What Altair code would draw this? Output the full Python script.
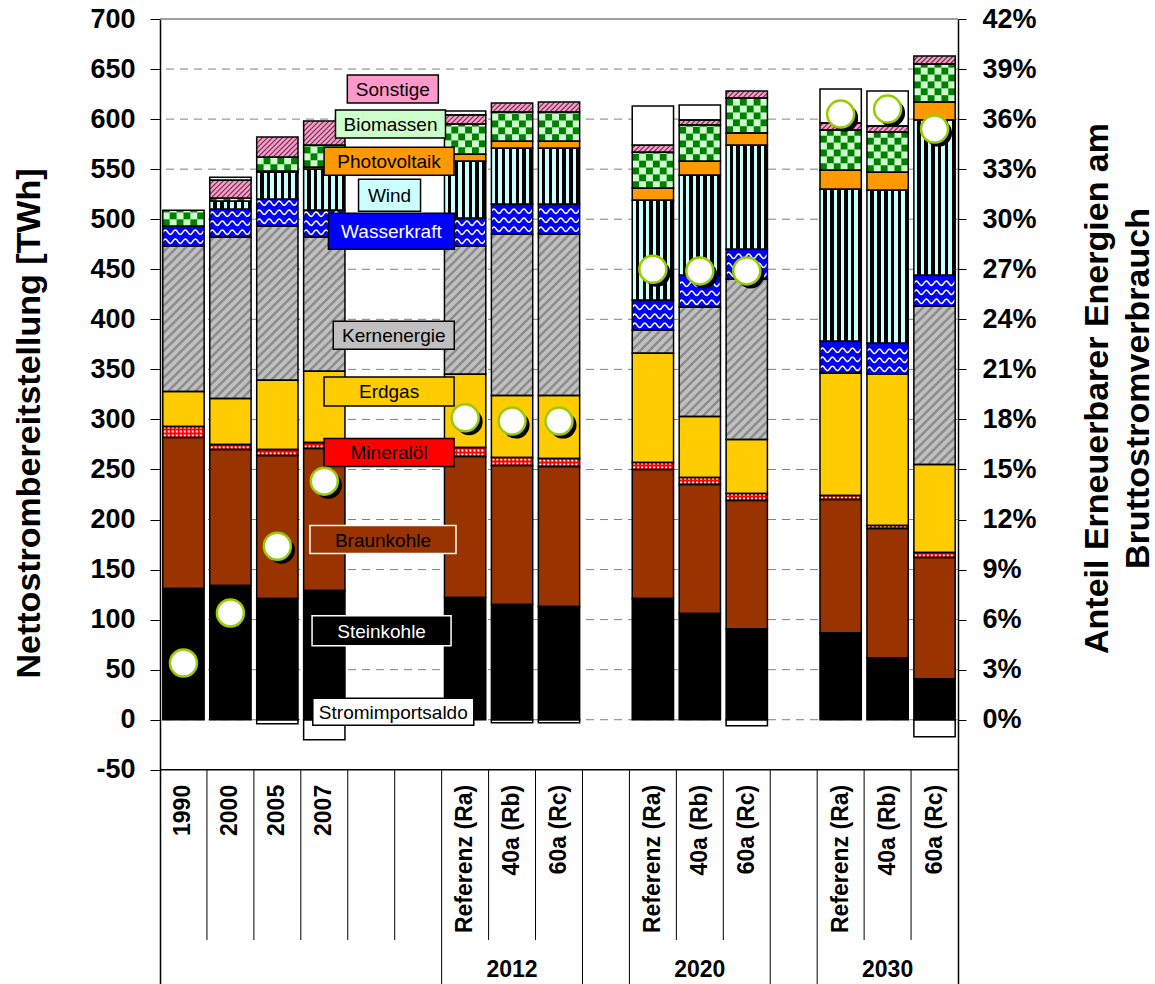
import altair as alt
import numpy as np
import pandas as pd

alt.data_transformers.disable_max_rows()

# ---------------------------------------------------------------------------
# Categories: 17 slots along the x axis (empty strings are spacer slots)
slot_labels = ["1990", "2000", "2005", "2007", "", "",
               "Referenz (Ra)", "40a (Rb)", "60a (Rc)", "",
               "Referenz (Ra)", "40a (Rb)", "60a (Rc)", "",
               "Referenz (Ra)", "40a (Rb)", "60a (Rc)"]
slot_groups = ["", "", "", "", "", "",
               "2012", "2012", "2012", "",
               "2020", "2020", "2020", "",
               "2030", "2030", "2030"]

# Net electricity supply per source in TWh, one value per bar (13 bars)
steinkohle   = [131, 134, 121, 129, 122, 115, 113, 121, 106, 91, 87, 62, 41]
braunkohle   = [151, 136, 143, 142, 141, 139, 140, 129, 129, 128, 133, 129, 121]
mineraloel   = [11, 5, 6, 6, 9, 8, 8, 7, 7, 7, 4, 3, 5]
erdgas       = [35, 46, 69, 71, 73, 62, 63, 109, 61, 54, 122, 151, 88]
kernenergie  = [145, 161, 154, 134, 128, 161, 161, 23, 109, 160, 0, 0, 158]
wasserkraft  = [20, 28, 27, 27, 28, 30, 30, 30, 32, 30, 32, 31, 31]
wind         = [0, 8, 27, 41, 57, 56, 56, 100, 100, 104, 152, 153, 155]
photovoltaik = [0, 0, 1, 2, 7, 7, 7, 12, 14, 12, 19, 18, 18]
biomassen    = [16, 3, 14, 22, 30, 29, 29, 36, 36, 35, 40, 40, 38]
sonstige     = [0, 18, 20, 24, 9, 9, 10, 7, 5, 7, 7, 6, 8]
stromimport  = [0, 3, -4, -20, 4, -3, -3, 39, 15, -6, 34, 35, -17]

# Share of renewables in gross electricity consumption, %
ee_anteil = [3.4, 6.4, 10.4, 14.3, 18.1, 17.9, 17.9, 27.0, 26.9, 26.9, 36.3, 36.6, 35.4]

sources = ["Steinkohle", "Braunkohle", "Mineralöl", "Erdgas", "Kernenergie",
           "Wasserkraft", "Wind", "Photovoltaik", "Biomassen", "Sonstige",
           "Stromimportsaldo"]
series = dict(zip(sources, [steinkohle, braunkohle, mineraloel, erdgas, kernenergie,
                            wasserkraft, wind, photovoltaik, biomassen, sonstige,
                            stromimport]))

# ---------------------------------------------------------------------------
# Styles
FONT = "Liberation Sans"
fill_colors = {
    "Steinkohle": "#000000", "Braunkohle": "#993300", "Mineralöl": "#FF0000",
    "Erdgas": "#FFCC00", "Kernenergie": "#C0C0C0", "Wasserkraft": "#0000FF",
    "Wind": "#CCFFFF", "Photovoltaik": "#FF9900", "Biomassen": "#CCFFCC",
    "Sonstige": "#FF99CC", "Stromimportsaldo": "#FFFFFF",
}

W, H = 798, 965                      # plot area in px
N_SLOTS = len(slot_labels)
Y_MIN, Y_MAX = -264, 700             # lower part hosts the category table
SLOT_PX = W / N_SLOTS
TWH_PX = H / (Y_MAX - Y_MIN)
SHARE_PER_TWH = 0.06                 # right axis: 42 % <-> 700 TWh
HALF = 0.44                          # half bar width in slot units
SHADOW_PX = 4.0                      # drop shadow offset of the share markers

# Layout of the category table (in TWh scale units below the -50 line)
TABLE_TOP = -50
LABEL_TOP = -65
ROW1_BOTTOM = -220
GROUP_LABEL_Y = -250

x_scale = alt.Scale(domain=[0, N_SLOTS], nice=False, zero=False)
y_scale = alt.Scale(domain=[Y_MIN, Y_MAX], nice=False, zero=False)
share_scale = alt.Scale(domain=[Y_MIN * SHARE_PER_TWH, Y_MAX * SHARE_PER_TWH],
                        nice=False, zero=False)

y_axis = alt.Axis(
    values=list(range(-50, 701, 50)), grid=False, labelExpr="'' + datum.value",
    title="Nettostrombereitstellung [TWh]", titleFont=FONT, titleFontSize=34,
    titleFontWeight="bold", titleColor="black", titleAngle=270,
    titleAlign="center", titleBaseline="middle", titleX=-131, titleY=404,
    labelFont=FONT, labelFontSize=27, labelFontWeight="bold", labelColor="black",
    labelPadding=15, tickSize=10, tickColor="black", domainColor="black",
    domainWidth=1.5,
)
share_axis = alt.Axis(
    values=list(range(0, 43, 3)), labelExpr="datum.value + '%'", grid=False,
    title=["Anteil Erneuerbarer Energien am", "Bruttostromverbrauch"],
    titleFont=FONT, titleFontSize=34, titleFontWeight="bold", titleColor="black",
    titleAngle=270, titleAlign="center", titleBaseline="middle",
    titleLineHeight=41, titleX=139, titleY=369,
    labelFont=FONT, labelFontSize=27, labelFontWeight="bold", labelColor="black",
    labelPadding=16, tickSize=8, tickColor="black", domainColor="black",
    domainWidth=1.5,
)


def X(field):
    return alt.X(field, type="quantitative", scale=x_scale, axis=None)


def Y(field):
    return alt.Y(field, type="quantitative", scale=y_scale, axis=y_axis)


# ---------------------------------------------------------------------------
# Stacked segments
bar_slots = [i for i, lab in enumerate(slot_labels) if lab]
rows = []
for b, slot in enumerate(bar_slots):
    xc = slot + 0.5
    base = 0.0
    for src in sources[:-1]:
        v = series[src][b]
        if v > 0:
            rows.append(dict(src=src, x0=xc - HALF, x1=xc + HALF, y0=base, y1=base + v))
        base += v
    imp = series["Stromimportsaldo"][b]
    if imp > 0:
        rows.append(dict(src="Stromimportsaldo", x0=xc - HALF, x1=xc + HALF, y0=base, y1=base + imp))
    elif imp < 0:
        rows.append(dict(src="Stromimportsaldo", x0=xc - HALF, x1=xc + HALF, y0=imp, y1=0.0))
seg = pd.DataFrame(rows)


def part(src):
    return seg[seg.src == src].reset_index(drop=True)


# Diagonal hatch lines clipped to each segment
def hatch(df, step):
    rise = SLOT_PX / TWH_PX  # 45 degrees on screen
    out = []
    for r in df.itertuples():
        c = r.y0 - rise * (r.x1 - r.x0)
        while c < r.y1:
            xs = max(r.x0, r.x0 + (r.y0 - c) / rise)
            xe = min(r.x1, r.x0 + (r.y1 - c) / rise)
            if xe > xs:
                out.append(dict(xa=xs, ya=c + rise * (xs - r.x0),
                                xb=xe, yb=c + rise * (xe - r.x0)))
            c += step
    return pd.DataFrame(out)


# Checkerboard cells for biomass
def checker(df, ncol=6):
    out = []
    for r in df.itertuples():
        cw = (r.x1 - r.x0) / ncol
        ch = cw * SLOT_PX / TWH_PX
        y, j = r.y0, 0
        while y < r.y1 - 0.3:
            top = min(y + ch, r.y1)
            for i in range(ncol):
                if (i + j) % 2 == 0:
                    out.append(dict(cx0=r.x0 + i * cw, cx1=r.x0 + (i + 1) * cw, cy0=y, cy1=top))
            y += ch
            j += 1
    return pd.DataFrame(out)


# Wavy lines for hydro power
def waves(df, spacing=9.0, amp=2.2, period=10.0):
    out = []
    rid = 0
    for r in df.itertuples():
        y = r.y0 + 5
        while y <= r.y1 - 3:
            for xv in np.linspace(r.x0, r.x1, 50):
                px = (xv - r.x0) * SLOT_PX
                out.append(dict(wx=xv, wy=y + amp * np.sin(2 * np.pi * px / period), rid=rid))
            rid += 1
            y += spacing
    return pd.DataFrame(out)


# Dotted rows for oil
def dots(df, spacing=4.0):
    out = []
    for r in df.itertuples():
        y = r.y0 + 2
        while y < r.y1 - 0.5:
            out.append(dict(dx0=r.x0 + 0.02, dx1=r.x1 - 0.02, dy=y))
            y += spacing
    return pd.DataFrame(out)


plain = seg[seg.src != "Wind"]
fills = alt.Chart(plain).mark_rect(strokeWidth=0).encode(
    x=X("x0"), x2="x1", y=Y("y0"), y2="y1",
    fill=alt.Fill("src:N", scale=alt.Scale(domain=list(fill_colors.keys()),
                                           range=list(fill_colors.values())), legend=None),
)

stops = []
n_stripes = 6
for k in range(n_stripes):
    a, m, e = k / n_stripes, (k + 0.5) / n_stripes, (k + 1) / n_stripes
    stops += [alt.GradientStop(color="#CCFFFF", offset=a),
              alt.GradientStop(color="#CCFFFF", offset=m),
              alt.GradientStop(color="#000000", offset=m),
              alt.GradientStop(color="#000000", offset=e)]
wind_fill = alt.LinearGradient(gradient="linear", stops=stops, x1=0, x2=1, y1=0, y2=0)
wind_layer = alt.Chart(part("Wind")).mark_rect(fill=wind_fill, strokeWidth=0).encode(
    x=X("x0"), x2="x1", y=Y("y0"), y2="y1")

kern_hatch = alt.Chart(hatch(part("Kernenergie"), 9.0)).mark_rule(
    color="#8C8C8C", strokeWidth=2.5).encode(x=X("xa"), y=Y("ya"), x2="xb", y2="yb")
sonst_hatch = alt.Chart(hatch(part("Sonstige"), 5.0)).mark_rule(
    color="#5A3848", strokeWidth=1.2).encode(x=X("xa"), y=Y("ya"), x2="xb", y2="yb")
bio_cells = alt.Chart(checker(part("Biomassen"))).mark_rect(
    color="#008000", strokeWidth=0).encode(x=X("cx0"), x2="cx1", y=Y("cy0"), y2="cy1")
hydro_waves = alt.Chart(waves(part("Wasserkraft"))).mark_line(
    color="white", strokeWidth=1.5).encode(x=X("wx"), y=Y("wy"), detail="rid:N")
oil_dots = alt.Chart(dots(part("Mineralöl"))).mark_rule(
    color="white", strokeWidth=2, strokeDash=[2, 2]).encode(x=X("dx0"), x2="dx1", y=Y("dy"))

outlines = alt.Chart(seg).mark_rect(fillOpacity=0, stroke="black", strokeWidth=1.5).encode(
    x=X("x0"), x2="x1", y=Y("y0"), y2="y1")

# ---------------------------------------------------------------------------
# Grid
grid = alt.Chart(pd.DataFrame({"v": list(range(0, 651, 50))})).mark_rule(
    color="#808080", strokeWidth=1, strokeDash=[8, 6]).encode(y=Y("v"))
top_border = alt.Chart(pd.DataFrame({"v": [Y_MAX]})).mark_rule(
    color="#808080", strokeWidth=1.5).encode(y=Y("v"))

# ---------------------------------------------------------------------------
# Source labels placed in the spacer slots (centre in slot/TWh units, size in px)
label_boxes = pd.DataFrame([
    ("Sonstige",         4.96, 630, 91, 28),
    ("Biomassen",        4.91, 595, 110, 28),
    ("Photovoltaik",     4.88, 558, 130, 28),
    ("Wind",             4.89, 524, 62, 32),
    ("Wasserkraft",      4.93, 488, 126, 36),
    ("Kernenergie",      4.98, 384, 121, 28),
    ("Erdgas",           4.88, 328, 130, 29),
    ("Mineralöl",        4.88, 267, 130, 28),
    ("Braunkohle",       4.75, 180, 146, 28),
    ("Steinkohle",       4.72, 89, 139, 30),
    ("Stromimportsaldo", 4.97, 8, 161, 27),
], columns=["src", "cx", "cy", "wpx", "hpx"])
label_boxes["bx0"] = label_boxes.cx - label_boxes.wpx / 2 / SLOT_PX
label_boxes["bx1"] = label_boxes.cx + label_boxes.wpx / 2 / SLOT_PX
label_boxes["by0"] = label_boxes.cy - label_boxes.hpx / 2 / TWH_PX
label_boxes["by1"] = label_boxes.cy + label_boxes.hpx / 2 / TWH_PX
label_boxes["fill"] = label_boxes.src.map(fill_colors)
label_boxes["edge"] = label_boxes.src.map(
    lambda s: "#FFFFFF" if s in ("Braunkohle", "Steinkohle") else "#000000")
label_boxes["ink"] = label_boxes.src.map(
    lambda s: "#FFFFFF" if s in ("Wasserkraft", "Steinkohle") else "#000000")

box_rects = alt.Chart(label_boxes).mark_rect(strokeWidth=1.5).encode(
    x=X("bx0"), x2="bx1", y=Y("by0"), y2="by1",
    fill=alt.Fill("fill:N", scale=None), stroke=alt.Stroke("edge:N", scale=None))
box_text = alt.Chart(label_boxes).mark_text(
    font=FONT, fontSize=19, align="center", baseline="middle", dy=1).encode(
    x=X("cx"), y=Y("cy"), text="src:N", color=alt.Color("ink:N", scale=None))

# ---------------------------------------------------------------------------
# Category table below the plot
cat_df = pd.DataFrame({"sx": [i + 0.5 for i in range(N_SLOTS)],
                       "lab": slot_labels, "ty": LABEL_TOP})
cat_df = cat_df[cat_df.lab != ""]
cat_text = alt.Chart(cat_df).mark_text(
    font=FONT, fontSize=23, fontWeight="bold", angle=270, align="right",
    baseline="middle", color="black").encode(x=X("sx"), y=Y("ty"), text="lab:N")

grp_rows = []
for g in dict.fromkeys(s for s in slot_groups if s):
    idx = [i for i, s in enumerate(slot_groups) if s == g]
    grp_rows.append(dict(gx=(min(idx) + max(idx) + 1) / 2, g=g, gy=GROUP_LABEL_Y))
group_text = alt.Chart(pd.DataFrame(grp_rows)).mark_text(
    font=FONT, fontSize=23, fontWeight="bold", align="center", baseline="middle",
    color="black").encode(x=X("gx"), y=Y("gy"), text="g:N")

div_rows = []
for bnd in range(1, N_SLOTS):
    full = slot_groups[bnd - 1] != slot_groups[bnd]
    div_rows.append(dict(bx=bnd, t=TABLE_TOP, b=Y_MIN if full else ROW1_BOTTOM))
dividers = alt.Chart(pd.DataFrame(div_rows)).mark_rule(
    color="black", strokeWidth=1).encode(x=X("bx"), y=Y("t"), y2="b")
table_line = alt.Chart(pd.DataFrame({"v": [TABLE_TOP]})).mark_rule(
    color="black", strokeWidth=1.5).encode(y=Y("v"))

# ---------------------------------------------------------------------------
# Renewable share markers (right axis), each with a small drop shadow
share_df = pd.DataFrame({"sx": [s + 0.5 for s in bar_slots], "anteil": ee_anteil})
dx_slots = SHADOW_PX / SLOT_PX
dy_share = SHADOW_PX / TWH_PX * SHARE_PER_TWH
shadow = alt.Chart(share_df).transform_calculate(
    shx=f"datum.sx + {dx_slots}", shy=f"datum.anteil - {dy_share}"
).mark_circle(size=729, color="black", opacity=1).encode(
    x=X("shx"), y=alt.Y("shy:Q", scale=share_scale, axis=share_axis))
markers = alt.Chart(share_df).mark_circle(
    size=729, fill="white", stroke="#99CC00", strokeWidth=2.5, opacity=1).encode(
    x=X("sx"), y=alt.Y("anteil:Q", scale=share_scale, axis=share_axis))

left = alt.layer(grid, top_border, fills, wind_layer, kern_hatch, sonst_hatch,
                 bio_cells, hydro_waves, oil_dots, outlines, box_rects, box_text,
                 dividers, table_line, cat_text, group_text)
right = alt.layer(shadow, markers)

chart = alt.layer(left, right).resolve_scale(y="independent").properties(
    width=W, height=H,
    autosize=alt.AutoSizeParams(type="none"),
    padding={"left": 160, "top": 19, "right": 197, "bottom": 0},
    background="white",
).configure_view(stroke=None)

chart.save("out.html", embed_options={"renderer": "svg", "actions": False})
